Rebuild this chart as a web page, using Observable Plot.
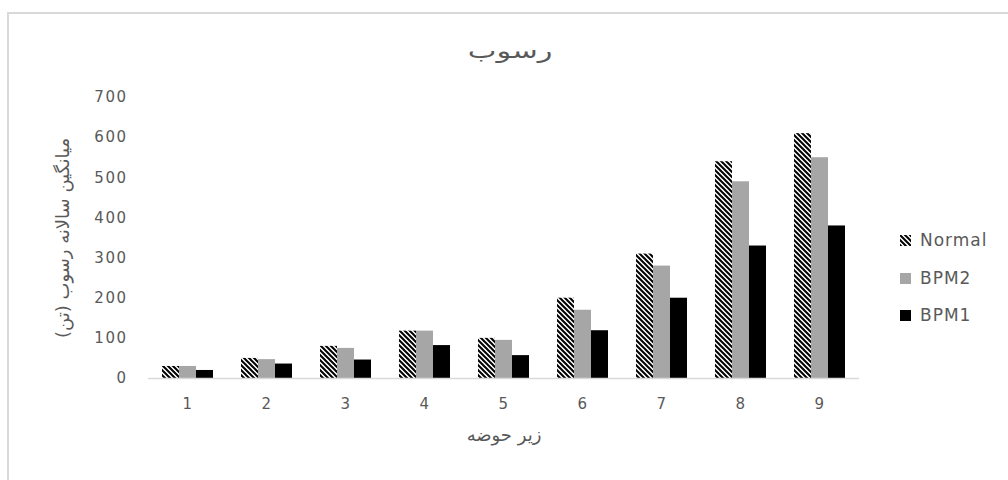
<!DOCTYPE html>
<html>
<head>
<meta charset="utf-8">
<script src="https://cdn.jsdelivr.net/npm/d3@7"></script>
<script src="https://cdn.jsdelivr.net/npm/@observablehq/plot@0.6"></script>
<style>
  body { margin: 0; background: #fff; }
  #wrap { position: relative; width: 1008px; height: 480px; overflow: hidden; font-family: "DejaVu Sans", sans-serif; color: #595959; }
  #frame { position: absolute; left: 7px; top: 12px; width: 1020px; height: 500px; border-left: 2px solid #d9d9d9; border-top: 2px solid #d9d9d9; box-sizing: border-box; }
  #chart { position: absolute; left: 0; top: 0; }
  #title { position: absolute; left: 6px; width: 1008px; top: 37px; text-align: center; font-size: 21px; line-height: 28px; direction: rtl; }
  #title span { display: inline-block; transform: scaleX(1.45); }
  .leg { position: absolute; left: 900px; font-size: 17px; letter-spacing: 1px; display: flex; align-items: center; height: 20px; }
  .leg svg { margin-right: 9px; }
</style>
</head>
<body>
<div id="wrap">
  <div id="frame"></div>
  <div id="chart"></div>
  <div id="title"><span>رسوب</span></div>
  <div id="legend"></div>
</div>
<script>
const subbasins = ["1", "2", "3", "4", "5", "6", "7", "8", "9"];
const seriesNames = ["Normal", "BPM2", "BPM1"];
const normalValues = [30, 50, 80, 118, 100, 200, 310, 540, 610];
const bpm2Values = [30, 47, 75, 118, 95, 170, 280, 490, 550];
const bpm1Values = [20, 36, 46, 82, 57, 119, 200, 330, 380];
const yTicks = [0, 100, 200, 300, 400, 500, 600, 700];
const seriesColors = ["url(#hatch)", "#a6a6a6", "#000000"];
const titleText = "رسوب";
const xLabel = "زیر حوضه";
const yLabel = "میانگین سالانه رسوب (تن)";

const valuesBySeries = {Normal: normalValues, BPM2: bpm2Values, BPM1: bpm1Values};
const data = subbasins.flatMap((s, i) => seriesNames.map(name => ({sub: s, series: name, value: valuesBySeries[name][i]})));

const chart = Plot.plot({
  width: 1008,
  height: 480,
  marginLeft: 146,
  marginRight: 148,
  marginTop: 97,
  marginBottom: 102,
  style: {fontFamily: "'DejaVu Sans', sans-serif", fontSize: "15px", color: "#595959", background: "transparent", overflow: "visible"},
  fx: {domain: subbasins, padding: 0, axis: "bottom", label: xLabel, labelAnchor: "center", labelOffset: 62, tickSize: 0, tickPadding: 20, labelArrow: "none"},
  x: {domain: seriesNames, paddingInner: 0, paddingOuter: 0.765, axis: null},
  y: {domain: [0, 700], ticks: yTicks, tickSize: 0, tickPadding: 21, label: yLabel, labelAnchor: "center", labelOffset: 92, labelArrow: "none"},
  color: {domain: seriesNames, range: seriesColors},
  marks: [
    Plot.barY(data, {fx: "sub", x: "series", y: "value", fill: "series"}),
    Plot.ruleY([0], {stroke: "#d9d9d9", strokeWidth: 1.5})
  ]
});

const svg = d3.select(chart);
const defs = svg.insert("defs", ":first-child");
const pat = defs.append("pattern").attr("id", "hatch").attr("patternUnits", "userSpaceOnUse").attr("width", 5).attr("height", 5);
pat.append("rect").attr("width", 5).attr("height", 5).attr("fill", "#fff");
pat.append("path").attr("d", "M-1,-1L6,6M4,-1L6,1M-1,4L1,6").attr("stroke", "#000").attr("stroke-width", 2);

svg.selectAll("text").each(function() {
  const t = this.textContent;
  if (/[\u0600-\u06FF]/.test(t)) {
    d3.select(this).attr("direction", "rtl").style("unicode-bidi", "embed").style("font-size", "18px");
  } else if (/^\d+$/.test(t)) {
    d3.select(this).style("letter-spacing", "1.5px");
  }
});

document.getElementById("chart").appendChild(chart);

const legendTops = [230, 268, 305];
const legend = d3.select("#legend");
seriesNames.forEach((name, i) => {
  const row = legend.append("div").attr("class", "leg").style("top", legendTops[i] + "px");
  const sw = row.append("svg").attr("width", 11).attr("height", 11);
  sw.append("rect").attr("width", 11).attr("height", 11).attr("fill", seriesColors[i]);
  row.append("span").text(name);
});
</script>
</body>
</html>
